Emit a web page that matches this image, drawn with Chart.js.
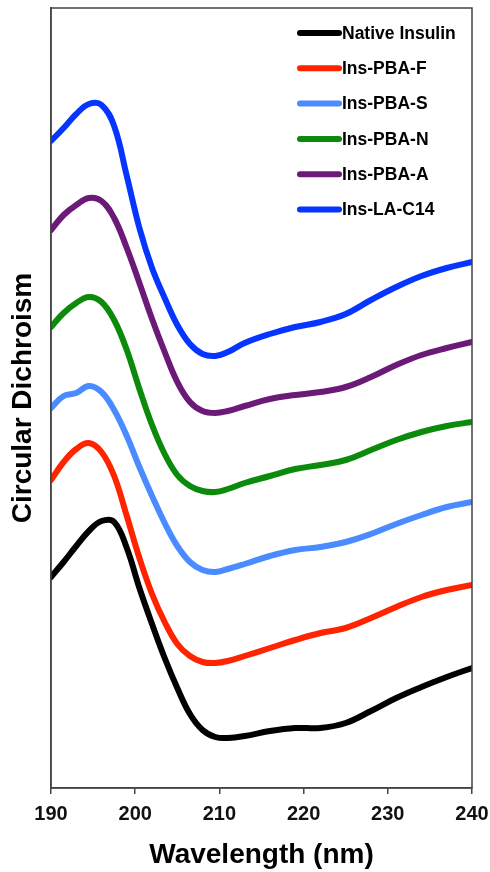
<!DOCTYPE html>
<html>
<head>
<meta charset="utf-8">
<script src="https://cdn.jsdelivr.net/npm/chart.js@4.4.1/dist/chart.umd.min.js"></script>
<style>
  body { margin: 0; background: #fff; }
  #wrap { width: 490px; height: 872px; }
</style>
</head>
<body>
<div id="wrap"><canvas id="myChart" width="490" height="872"></canvas></div>
<script>
// wavelengths (nm) shared by all spectra
const wavelengths = [190, 191.5, 193, 194.5, 196, 197.5, 199, 200.5, 202, 203.5, 205, 206.5, 208, 209.5, 211, 213, 216, 219, 222, 225, 228, 231, 234, 237, 240]

// CD traces, stacked with an offset (arbitrary units)
const nativeInsulin = [21.1, 22.6, 24.2, 25.7, 26.7, 26.6, 24.0, 20.0, 16.4, 13.0, 10.0, 7.4, 5.8, 5.1, 5.0, 5.2, 5.7, 6.0, 6.0, 6.5, 7.7, 9.0, 10.1, 11.1, 12.0]
const insPbaF = [30.8, 32.6, 33.9, 34.5, 33.6, 31.2, 27.2, 23.0, 19.4, 16.6, 14.4, 13.2, 12.6, 12.5, 12.7, 13.2, 14.0, 14.8, 15.5, 16.0, 17.0, 18.1, 19.1, 19.8, 20.3]
const insPbaS = [38.0, 39.2, 39.5, 40.2, 39.6, 37.8, 35.2, 32.1, 29.2, 26.5, 24.2, 22.6, 21.8, 21.6, 21.9, 22.4, 23.2, 23.8, 24.1, 24.6, 25.4, 26.4, 27.3, 28.1, 28.6]
const insPbaN = [46.1, 47.5, 48.5, 49.1, 48.6, 46.8, 43.8, 39.9, 36.3, 33.4, 31.3, 30.2, 29.7, 29.6, 29.9, 30.5, 31.2, 31.9, 32.3, 32.8, 33.8, 34.8, 35.6, 36.2, 36.6]
const insPbaA = [55.8, 57.3, 58.3, 59.0, 58.7, 57.0, 54.0, 50.5, 46.9, 43.6, 40.6, 38.6, 37.7, 37.5, 37.7, 38.2, 38.9, 39.3, 39.6, 40.1, 41.1, 42.3, 43.3, 44.0, 44.6]
const insLaC14 = [64.7, 66.0, 67.4, 68.4, 68.3, 66.2, 61.2, 56.0, 52.0, 49.0, 46.3, 44.4, 43.4, 43.2, 43.6, 44.5, 45.4, 46.1, 46.6, 47.4, 48.8, 50.1, 51.2, 52.0, 52.6]

const seriesNames = ['Native Insulin', 'Ins-PBA-F', 'Ins-PBA-S', 'Ins-PBA-N', 'Ins-PBA-A', 'Ins-LA-C14']
const seriesValues = [nativeInsulin, insPbaF, insPbaS, insPbaN, insPbaA, insLaC14]
const seriesColors = ['#000000', '#ff2400', '#4a8cff', '#0b8a0b', '#6c1a78', '#0535ff']
const xTicks = [190, 200, 210, 220, 230, 240]

const toPoints = values => values.map((v, i) => ({x: wavelengths[i], y: v}))
const fontFamily = 'Arial, "Liberation Sans", sans-serif'

// frame round the plot + legend in the top right corner
const framePlugin = {
  id: 'frame',
  afterDraw(chart) {
    const {ctx, chartArea: a} = chart
    ctx.save()
    ctx.strokeStyle = '#444'
    ctx.lineWidth = 1.5
    ctx.strokeRect(a.left, a.top, a.right - a.left, a.bottom - a.top)

    ctx.font = 'bold 17.5px ' + fontFamily
    ctx.textBaseline = 'middle'
    ctx.lineCap = 'round'
    chart.data.datasets.forEach((ds, i) => {
      const y = 33 + i * 35.3
      ctx.strokeStyle = ds.borderColor
      ctx.lineWidth = 6
      ctx.beginPath()
      ctx.moveTo(300, y)
      ctx.lineTo(339, y)
      ctx.stroke()
      ctx.fillStyle = '#000'
      ctx.fillText(ds.label, 342, y + 1)
    })
    ctx.restore()
  },
}

new Chart('myChart', {
  type: 'line',
  data: {
    datasets: seriesValues.map((vals, i) => ({
      label: seriesNames[i],
      data: toPoints(vals),
      borderColor: seriesColors[i],
      borderWidth: 6,
      pointRadius: 0,
      tension: 0.4,
      borderCapStyle: 'round',
      borderJoinStyle: 'round',
      fill: false,
    })),
  },
  plugins: [framePlugin],
  options: {
    responsive: false,
    animation: false,
    layout: {padding: {top: 8, right: 18, left: 0, bottom: 0}},
    plugins: {
      legend: {display: false},
      tooltip: {enabled: false},
    },
    scales: {
      x: {
        type: 'linear',
        min: 190,
        max: 240,
        afterFit: scale => {
          scale.height = 84
          scale.paddingLeft = 0
          scale.paddingRight = 0
        },
        afterBuildTicks: scale => { scale.ticks = xTicks.map(v => ({value: v})) },
        grid: {display: true, drawOnChartArea: false, drawTicks: true, tickLength: 6, color: '#444', lineWidth: 1.5},
        border: {display: true, color: '#444', width: 1.5},
        ticks: {
          color: '#111',
          padding: 8,
          maxRotation: 0,
          font: {family: fontFamily, size: 20, weight: 'bold'},
        },
        title: {
          display: true,
          text: 'Wavelength (nm)',
          color: '#000',
          padding: {top: 0, bottom: 0},
          font: {family: fontFamily, size: 28, weight: 'bold'},
        },
      },
      y: {
        min: 0,
        max: 78,
        afterFit: scale => { scale.width = 51 },
        grid: {display: false},
        border: {display: true, color: '#444', width: 1.5},
        ticks: {display: false},
        title: {
          display: true,
          text: 'Circular Dichroism',
          color: '#000',
          padding: {top: 6, bottom: 0},
          font: {family: fontFamily, size: 28, weight: 'bold'},
        },
      },
    },
  },
})
</script>
</body>
</html>
